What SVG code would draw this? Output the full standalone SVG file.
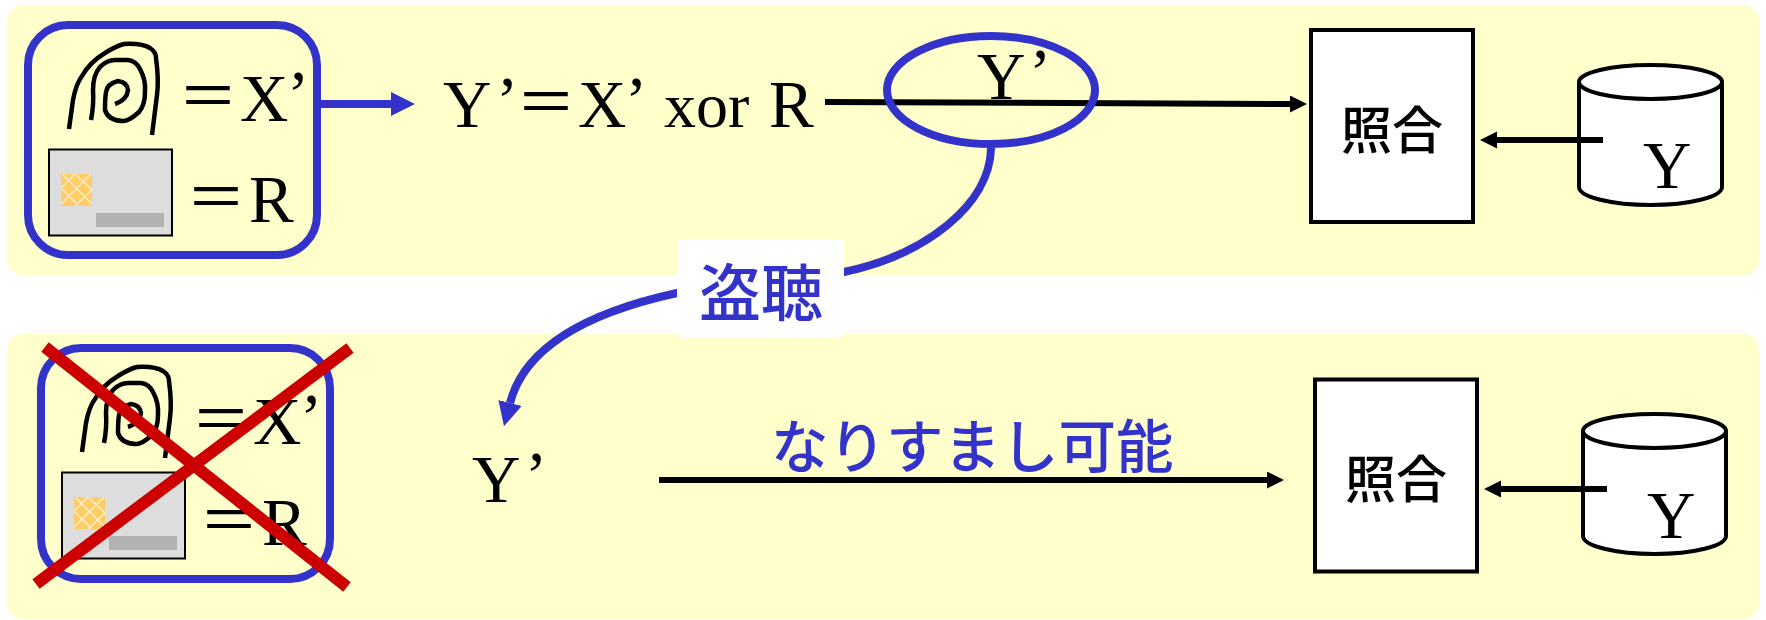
<svg xmlns="http://www.w3.org/2000/svg" width="1766" height="620" viewBox="0 0 1766 620">
<style>
.panel{fill:#ffffcc}
.blue{fill:none;stroke:#3333cc;stroke-width:8}
.t{font-family:"Liberation Serif","Noto Sans CJK JP",serif;font-size:67px;fill:#000}
.eq{font-family:"Noto Sans CJK JP","Liberation Sans",sans-serif;font-size:60px;font-weight:400;fill:#000}
.j{font-family:"Noto Sans CJK JP","Noto Sans",sans-serif;font-weight:500;fill:#3333cc}
.k{font-family:"Noto Sans CJK JP","Noto Sans",sans-serif;font-size:51px;font-weight:500;fill:#000;text-anchor:middle}
.conn{fill:none;stroke:#000;stroke-width:6}
.fp{fill:none;stroke:#000;stroke-width:4.500}
</style>
<defs>
<marker id="ab" markerUnits="userSpaceOnUse" markerWidth="18" markerHeight="18" refX="0" refY="8.500" orient="auto"><path d="M0 0L17 8.500L0 17Z" fill="#000"/></marker>
<marker id="ablue" markerUnits="userSpaceOnUse" markerWidth="25" markerHeight="25" refX="0" refY="12" orient="auto"><path d="M0 0L24 12L0 24Z" fill="#3333cc"/></marker>
<g id="finger">
<path class="fp" d="M69 129L73 100Q76 84 82 76Q90 62 105 53Q116 46 124 44Q142 43 150 48Q156 52 156 58Q159 80 157 95L152 135"/>
<path class="fp" d="M91 120Q94 105 93 90Q93 75 100 67Q107 60 115 60L128 60Q136 61 140 69Q146 80 145 92Q145 105 139 112Q128 122 122 121Q108 120 105 110Q105 98 106 92Q107 84 118 81Q127 82 128 90Q127 100 115 104"/>
</g>
<g id="card">
<rect x="49" y="149.500" width="123" height="86" fill="#dddddd" stroke="#000" stroke-width="2"/>
<rect x="61" y="174" width="31" height="32" fill="#ffcc66"/>
<path d="M61 188L75 174M61 204L91 174M75 206L92 190M63 175L92 204M76 175L92 190M62 189L78 205" fill="none" stroke="#ffeecc" stroke-width="1.500"/>
<rect x="96" y="213" width="68" height="14" fill="#b2b2b2"/>
</g>
<g id="db">
<path d="M1579 82V187C1579 197 1612 205 1650.500 205S1722 197 1722 187V82" fill="#fff" stroke="#000" stroke-width="4"/>
<ellipse cx="1650.500" cy="82" rx="71.500" ry="17" fill="#fff" stroke="#000" stroke-width="4"/>
</g>
</defs>
<g id="panels">
<rect class="panel" x="7" y="5" width="1752" height="270" rx="15"/>
<rect class="panel" x="7" y="334" width="1752" height="285" rx="15"/>
</g>
<g id="connectors">
<path d="M321 104H391" fill="none" stroke="#3333cc" stroke-width="8" marker-end="url(#ablue)"/>
<path class="conn" d="M825 102L1290 104" marker-end="url(#ab)"/>
<path class="conn" d="M1603 140H1497" marker-end="url(#ab)"/>
<path d="M991 148C990 205 925 255 844 272L677 293C590 312 525 345 510 403" fill="none" stroke="#3333cc" stroke-width="8" marker-end="url(#ablue)"/>
<path class="conn" d="M659 480H1267" marker-end="url(#ab)"/>
<path class="conn" d="M1607 489H1501" marker-end="url(#ab)"/>
</g>
<g id="input-top">
<rect class="blue" x="28" y="25" width="289" height="230" rx="40"/>
<use href="#finger"/>
<use href="#card"/>
<text class="eq" x="178" y="118">＝</text><text class="t" x="240" y="121">X</text><text class="t" x="287" y="117">’</text>
<text class="eq" x="186" y="219">＝</text><text class="t" x="249" y="222">R</text>
</g>
<g id="formula">
<text class="t" x="443" y="127">Y</text><text class="t" x="496" y="123">’</text><text class="eq" x="516" y="124">＝</text><text class="t" x="578" y="127">X</text><text class="t" x="625" y="123">’</text>
<text class="t" x="664" y="127" style="font-size:64px">xor</text><text class="t" x="769" y="127">R</text>
</g>
<g id="sniff-ellipse">
<ellipse class="blue" cx="991" cy="90" rx="104" ry="54"/>
<text class="t" x="977" y="99">Y</text><text class="t" x="1029" y="95">’</text>
</g>
<g id="match-top">
<rect x="1311" y="30" width="162" height="192" fill="#fff" stroke="#000" stroke-width="4"/>
<text class="k" x="1392" y="149">照合</text>
</g>
<g id="db-top">
<use href="#db"/>
<path class="conn" d="M1579 140H1603"/>
<text class="t" x="1643" y="188">Y</text>
</g>
<g id="eavesdrop">
<rect x="677" y="240" width="167" height="97" fill="#fff"/>
<text class="j" x="699" y="316" font-size="62">盗聴</text>
</g>
<g id="input-bottom">
<rect class="blue" x="41" y="348" width="289" height="231" rx="40"/>
<use href="#finger" x="13" y="323"/>
<use href="#card" x="13" y="323"/>
<text class="eq" x="191" y="441">＝</text><text class="t" x="253" y="444">X</text><text class="t" x="300" y="440">’</text>
<text class="eq" x="199" y="542">＝</text><text class="t" x="262" y="545">R</text>
<path d="M45 347L347 587M350 348L36 584" fill="none" stroke="#cc0000" stroke-width="12"/>
</g>
<g id="y-bottom">
<text class="t" x="472" y="502">Y</text><text class="t" x="525" y="498">’</text>
</g>
<g id="spoof-label">
<text class="j" x="771" y="468" font-size="57.500">なりすまし可能</text>
</g>
<g id="match-bottom">
<rect x="1315" y="379.500" width="162" height="192" fill="#fff" stroke="#000" stroke-width="4"/>
<text class="k" x="1396" y="498">照合</text>
</g>
<g id="db-bottom">
<use href="#db" x="4" y="349"/>
<path class="conn" d="M1583 489H1607"/>
<text class="t" x="1647" y="538">Y</text>
</g>
</svg>
